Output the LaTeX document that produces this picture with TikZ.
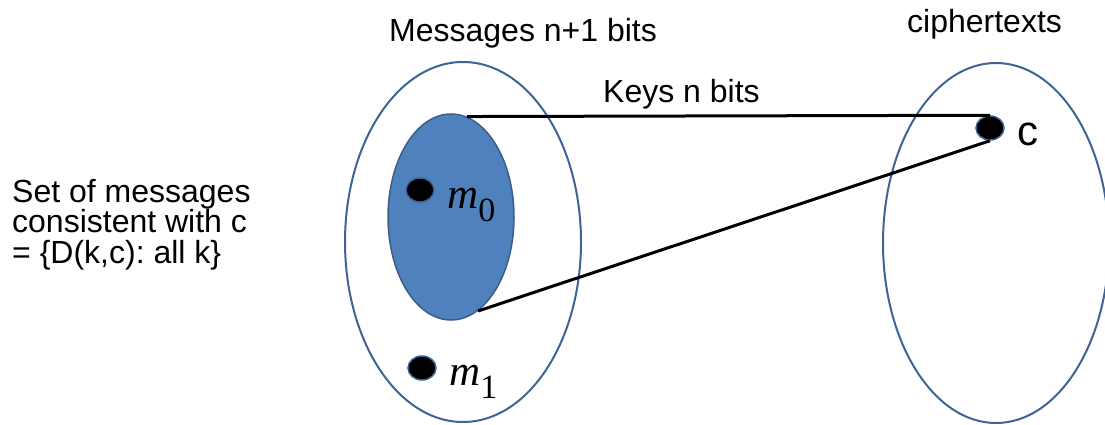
\documentclass[tikz,border=0pt]{standalone}
\usepackage{fontspec}
\setmainfont{Liberation Sans}
\newfontfamily\mathserif{Liberation Serif}
\usetikzlibrary{shapes.geometric}
\frenchspacing
\definecolor{rimblue}{RGB}{62,100,150}
\definecolor{setfill}{RGB}{79,129,189}
\definecolor{setrim}{RGB}{58,94,140}
\newcommand{\msglabel}[1]{{\mathserif\fontsize{43}{43}\selectfont\itshape m}\raisebox{-13pt}{\mathserif\fontsize{34}{34}\selectfont #1}}
\tikzset{
  space/.style={ellipse, draw=rimblue, line width=2pt, inner sep=0pt},
  msgset/.style={ellipse, draw=setrim, fill=setfill, line width=1.5pt, inner sep=0pt,
    minimum width=126pt, minimum height=206pt},
  dot/.style={ellipse, fill=black, draw=rimblue, line width=1.5pt, inner sep=0pt,
    minimum width=28pt, minimum height=24pt},
  caption/.style={font=\fontsize{32}{32}\selectfont, inner sep=0pt},
  link/.style={draw=black, line width=3pt}
}
\begin{document}
\begin{tikzpicture}[x=1pt, y=-1pt]
  \useasboundingbox (0,0) rectangle (1105,425);
  % message space and ciphertext space
  \node[space, minimum width=236pt, minimum height=360pt] (msgs) at (463,242) {};
  \node[space, minimum width=226pt, minimum height=360pt] (ciphers) at (996,243) {};
  % messages consistent with c
  \node[msgset] (cons) at (451,217) {};
  \node[dot] (m0) at (420,190) {};
  \node[dot] (m1) at (422,368) {};
  \node[dot] (c) at (990,128) {};
  \node[anchor=base west, inner sep=0pt] (m0lab) at (447,208) {\msglabel{0}};
  \node[anchor=base west, inner sep=0pt] (m1lab) at (449,385) {\msglabel{1}};
  \node[anchor=base west, inner sep=0pt, font=\fontsize{42}{42}\selectfont] (clab) at (1017,146) {c};
  % decryption links from c
  \draw[link] (cons.81) -- (c.north);
  \draw[link] (cons.-74) -- (c.south);
  % captions
  \node[caption, anchor=base west] (msgcap) at (389,42) {Messages n+1 bits};
  \node[caption, anchor=base west] (keycap) at (603,103) {Keys n bits};
  \node[caption, anchor=base west] (ciphcap) at (907,33) {ciphertexts};
  \node[caption, anchor=base west, align=left, font=\fontsize{32}{30.5}\selectfont] (setcap) at (12,263)
    {Set of messages\\consistent with c\\= \{D(k,c): all k\}};
\end{tikzpicture}
\end{document}
